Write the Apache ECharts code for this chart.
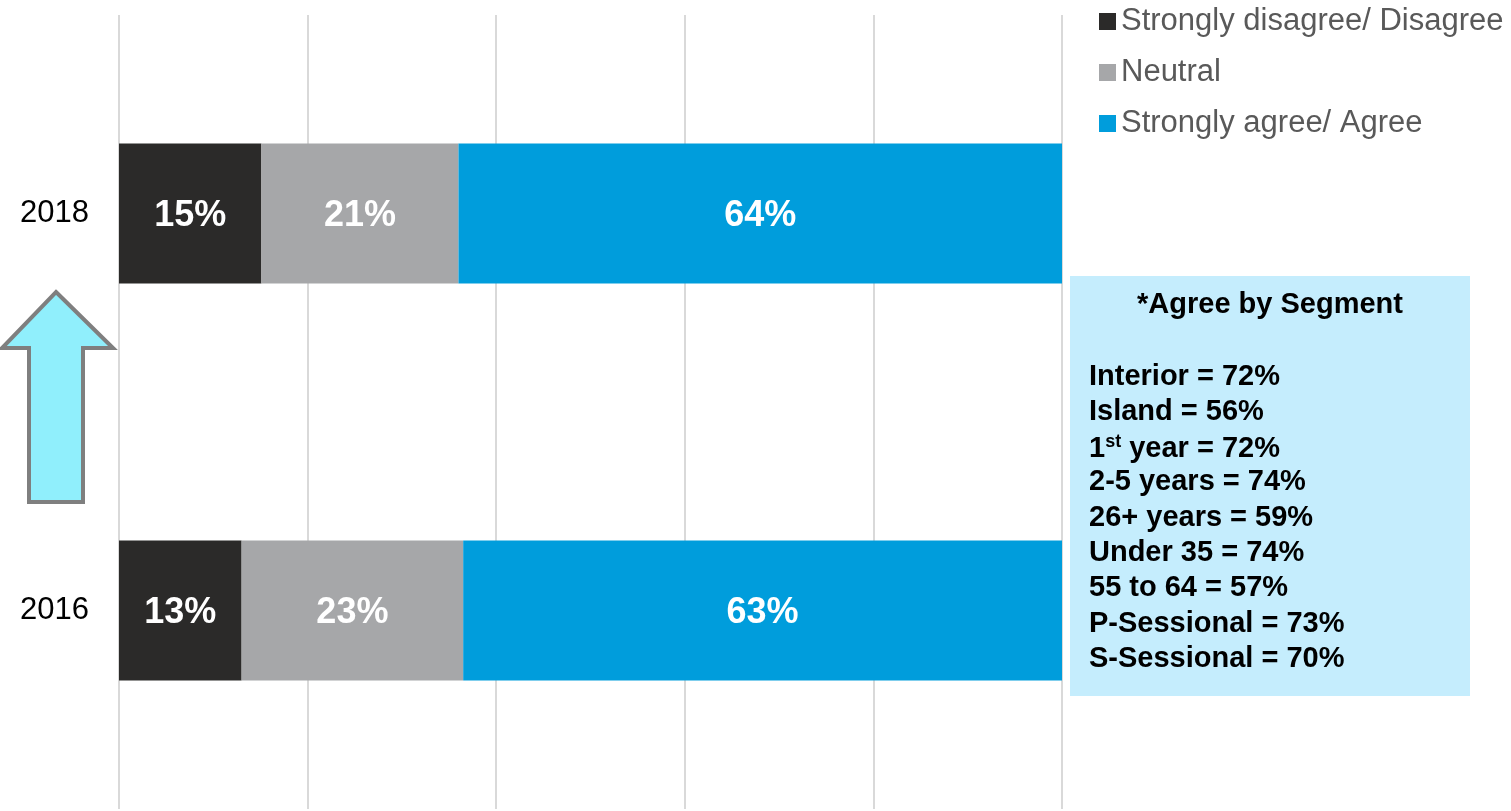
<!DOCTYPE html>
<html><head><meta charset="utf-8">
<script src="https://cdn.jsdelivr.net/npm/echarts@6/dist/echarts.min.js"></script>
<style>html,body{margin:0;padding:0;background:#fff}#c{width:1511px;height:811px}</style>
</head><body><div id="c"></div>
<script>
const categories = ['2016', '2018'];
const seriesNames = ['Strongly disagree/ Disagree', 'Neutral', 'Strongly agree/ Agree'];
const disagree = [13.0, 15.1];
const neutral = [23.5, 20.9];
const agree = [63.5, 64.0];
const disagreeLabels = ['13%', '15%'];
const neutralLabels = ['23%', '21%'];
const agreeLabels = ['63%', '64%'];
const xTicks = [0, 20, 40, 60, 80, 100];
const boxTitle = '*Agree by Segment';
const segmentNames = ['Interior', 'Island', '1st year', '2-5 years', '26+ years', 'Under 35', '55 to 64', 'P-Sessional', 'S-Sessional'];
const segmentValues = ['72%', '56%', '72%', '74%', '59%', '74%', '57%', '73%', '70%'];

const FONT = '"Liberation Sans", Arial, sans-serif';
const colors = ['#2b2a29', '#a6a7a9', '#009ddc'];

function mkSeries(name, data, labels, color) {
  return {
    name: name, type: 'bar', stack: 'total', data: data, barWidth: 140,
    itemStyle: { color: color },
    label: { show: true, position: 'inside', offset: [0, 3], color: '#fff', fontFamily: FONT, fontWeight: 'bold', fontSize: 36,
      formatter: p => labels[p.dataIndex] },
    emphasis: { disabled: true }
  };
}

const segGraphics = segmentNames.map((n, i) => {
  let txt;
  if (n.indexOf('1st') === 0) {
    txt = '{a|1}{s|st}{a|' + n.slice(3) + ' = ' + segmentValues[i] + '}';
  } else {
    txt = '{a|' + n + ' = ' + segmentValues[i] + '}';
  }
  return {
    type: 'text', left: 1089, top: 362 + i * 35.3, z: 10,
    style: { text: txt, fill: '#000', font: 'bold 29px ' + FONT,
      rich: { a: { fontFamily: FONT, fontWeight: 'bold', fontSize: 29, fill: '#000', lineHeight: 32 },
              s: { fontFamily: FONT, fontWeight: 'bold', fontSize: 18, fill: '#000', verticalAlign: 'top', lineHeight: 32, padding: [0,0,10,0] } } }
  };
});

const chart = echarts.init(document.getElementById('c'), null, { renderer: 'canvas' });
chart.setOption({
  animation: false,
  backgroundColor: '#fff',
  grid: { left: 119, right: 449, top: 15, bottom: 2, containLabel: false },
  xAxis: { type: 'value', min: 0, max: 100, interval: 20,
    axisLabel: { show: false }, axisLine: { show: false }, axisTick: { show: false },
    splitLine: { show: true, lineStyle: { color: '#d9d9d9', width: 2 } } },
  yAxis: { type: 'category', data: categories,
    axisLine: { show: false }, axisTick: { show: false },
    axisLabel: { color: '#000', fontFamily: FONT, fontSize: 31, margin: 30 } },
  legend: { orient: 'vertical', left: 1094, top: 1, itemWidth: 17, itemHeight: 17, itemGap: 20, icon: 'rect',
    data: seriesNames,
    textStyle: { color: '#595959', fontFamily: FONT, fontSize: 31, lineHeight: 31 } },
  series: [
    mkSeries(seriesNames[0], disagree, disagreeLabels, colors[0]),
    mkSeries(seriesNames[1], neutral, neutralLabels, colors[1]),
    mkSeries(seriesNames[2], agree, agreeLabels, colors[2])
  ],
  graphic: [
    { type: 'rect', shape: { x: 1070, y: 276, width: 400, height: 420 }, style: { fill: '#c5edfd' }, z: 5 },
    { type: 'text', x: 1270, y: 305, z: 10, style: { text: boxTitle, fill: '#000', font: 'bold 29px ' + FONT, align: 'center', verticalAlign: 'middle' } },
    ...segGraphics,
    { type: 'polygon', z: 10,
      shape: { points: [[56, 292], [113, 348], [83, 348], [83, 502], [29, 502], [29, 348], [2, 348]] },
      style: { fill: '#90effc', stroke: '#7f7f7f', lineWidth: 4, lineJoin: 'miter' } }
  ]
});
</script></body></html>
